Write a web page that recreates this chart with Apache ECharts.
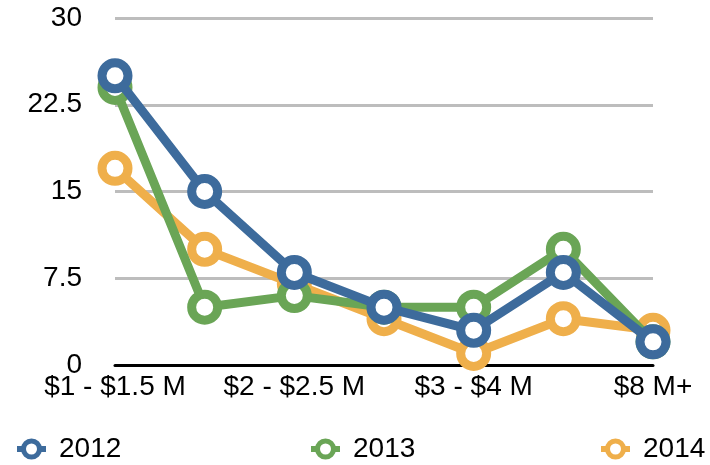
<!DOCTYPE html>
<html>
<head>
<meta charset="utf-8">
<script src="https://cdn.jsdelivr.net/npm/echarts@6/dist/echarts.min.js"></script>
<style>
html, body { margin: 0; padding: 0; background: #fff; }
#main { width: 710px; height: 465px; }
</style>
</head>
<body>
<div id="main"></div>
<script>
// 数据
var categories = ['$1 - $1.5 M', '$1.5 - $2 M', '$2 - $2.5 M', '$2.5 - $3 M', '$3 - $4 M', '$4 - $8 M', '$8 M+'];
var data2012 = [25, 15, 8, 5, 3, 8, 2];
var data2013 = [24, 5, 6, 5, 5, 10, 2];
var data2014 = [17, 10, 7, 4, 1, 4, 3];
var yTicks = [0, 7.5, 15, 22.5, 30];

var colorList = ['#3d6b9c', '#6aa556', '#efaf4b'];
var fontName = '"Liberation Sans", Arial, sans-serif';

function makeSeries(name, data, color, z) {
    return {
        name: name,
        type: 'line',
        data: data,
        z: z,
        symbol: 'circle',
        symbolSize: 26,
        showAllSymbol: true,
        lineStyle: { color: color, width: 9 },
        itemStyle: { color: '#fff', borderColor: color, borderWidth: 9 },
        emphasis: { disabled: true }
    };
}

// 图例 (每个年份单独放)
function makeLegend(name, left) {
    return {
        data: [name],
        left: left,
        top: 430,
        itemWidth: 29,
        itemHeight: 20,
        itemGap: 10,
        lineStyle: { width: 6 },
        itemStyle: { color: '#fff', borderWidth: 5 },
        textStyle: { fontFamily: fontName, fontSize: 28, color: '#000', padding: [0, 0, 0, 8] }
    };
}

var myChart = echarts.init(document.getElementById('main'));
var option = {
    animation: false,
    color: colorList,
    grid: { left: 115, right: 57, top: 18, bottom: 100, containLabel: false },
    legend: [
        makeLegend('2012', 9),
        makeLegend('2013', 303),
        makeLegend('2014', 593)
    ],
    xAxis: {
        type: 'category',
        data: categories,
        boundaryGap: false,
        axisLine: { show: true, lineStyle: { color: '#000', width: 3 } },
        axisTick: { show: false },
        axisLabel: {
            interval: 1,
            margin: 8,
            fontFamily: fontName,
            fontSize: 28,
            color: '#000'
        },
        splitLine: { show: false }
    },
    yAxis: {
        type: 'value',
        min: yTicks[0],
        max: yTicks[yTicks.length - 1],
        interval: 7.5,
        axisLine: { show: false },
        axisTick: { show: false },
        axisLabel: {
            margin: 33,
            fontFamily: fontName,
            fontSize: 28,
            color: '#000'
        },
        splitLine: { lineStyle: { color: '#bdbdbd', width: 3 } }
    },
    series: [
        makeSeries('2014', data2014, colorList[2], 2),
        makeSeries('2013', data2013, colorList[1], 3),
        makeSeries('2012', data2012, colorList[0], 4)
    ]
};
myChart.setOption(option);
</script>
</body>
</html>
